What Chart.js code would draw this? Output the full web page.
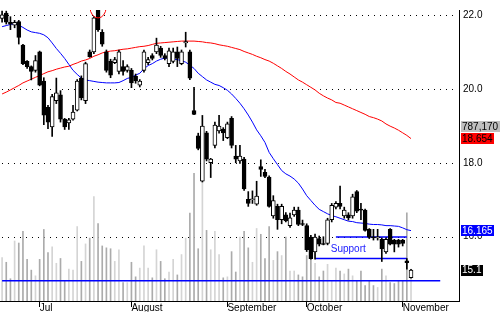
<!DOCTYPE html>
<html>
<head>
<meta charset="utf-8">
<script src="https://cdn.jsdelivr.net/npm/chart.js@4/dist/chart.umd.min.js"></script>
<style>
  html, body { margin: 0; padding: 0; background: #fff; }
  canvas { display: block; }
</style>
</head>
<body>
<canvas id="chart" width="500" height="312"></canvas>
<script>
// ---- Data ----
const SLOTS = 110; // daily slots on the x axis, last ~11 left empty

const monthIdx   = [9, 31, 54, 73, 96];
const monthNames = ['Jul', 'August', 'September', 'October', 'November'];

const opens = [
  21.9, 22.05, 21.8, 21.72, 21.82, 21.18, 20.74, 20.6, 20.5, 21.0,
  20.21, 19.5, 18.97, 19.68, 19.84, 19.18, 19.08, 19.18, 19.42, 20.29,
  19.68, 21.0, 21.0, 22.25, 21.53, 21.0, 20.74, 20.71, 20.47, 20.6,
  20.5, 20.5, 20.34, 20.1, 20.5, 20.71, 20.9, 21.0, 21.1, 20.9,
  20.68, 20.74, 21.0, 20.68, 21.24, 21.0, 19.41, 18.73, 17.5, 18.81,
  18.0, 18.47, 18.86, 18.91, 18.68, 19.2, 18.18, 18.05, 18.1, 17.01,
  17.0, 16.88, 17.9, 17.74, 17.61, 16.56, 16.82, 16.46, 16.59, 16.3,
  16.59, 16.72, 16.35, 16.3, 15.99, 15.59, 15.95, 15.8, 15.82, 16.46,
  16.8, 16.9, 16.56, 16.59, 16.56, 17.22, 16.75, 16.72, 16.2, 16.0,
  15.97, 15.93, 15.59, 16.2, 15.91, 15.91, 15.91, 15.35, 14.89
];
const highs = [
  22.1, 22.1, 21.95, 21.85, 21.85, 21.2, 20.76, 20.62, 20.9, 21.02,
  20.3, 19.55, 19.85, 20.29, 19.95, 19.2, 19.2, 19.55, 20.25, 20.35,
  20.72, 21.05, 21.95, 22.4, 21.6, 21.05, 20.8, 20.85, 21.05, 20.76,
  20.65, 20.55, 20.4, 20.25, 21.05, 20.85, 20.95, 21.37, 21.15, 20.95,
  21.1, 21.1, 21.13, 21.05, 21.53, 21.05, 20.04, 18.8, 19.28, 18.85,
  18.12, 19.1, 19.28, 18.95, 19.1, 19.25, 18.47, 18.47, 18.15, 17.22,
  17.24, 17.5, 18.08, 17.82, 17.65, 17.11, 16.88, 16.88, 16.65, 16.64,
  16.8, 16.8, 16.45, 16.35, 16.04, 16.07, 16.02, 16.0, 16.5, 16.9,
  16.95, 17.37, 16.8, 16.65, 17.15, 17.25, 16.9, 16.75, 16.22, 16.2,
  16.2, 15.97, 15.97, 16.22, 15.93, 15.93, 15.93, 15.41, 15.12
];
const lows = [
  21.8, 21.75, 21.6, 21.65, 21.21, 20.65, 20.55, 20.24, 20.45, 20.08,
  19.03, 18.92, 18.71, 19.6, 19.1, 18.9, 18.9, 19.15, 19.4, 19.7,
  19.6, 20.85, 20.95, 21.55, 21.15, 20.45, 20.3, 20.68, 20.4, 20.37,
  20.45, 20.03, 20.15, 20.05, 20.45, 20.65, 20.78, 20.95, 20.85, 20.78,
  20.6, 20.7, 20.6, 20.65, 21.13, 20.25, 19.3, 18.35, 17.48, 18.05,
  17.6, 18.4, 18.8, 18.6, 18.65, 18.4, 18.0, 17.98, 17.25, 16.82,
  16.9, 16.85, 17.63, 17.6, 16.8, 16.5, 16.2, 16.35, 16.4, 16.25,
  16.55, 16.3, 16.3, 15.6, 15.39, 15.39, 15.75, 15.78, 15.78, 16.4,
  16.75, 16.75, 16.5, 16.45, 16.5, 16.65, 16.46, 16.15, 15.95, 15.91,
  15.91, 15.33, 15.55, 15.78, 15.59, 15.72, 15.75, 15.12, 14.88
];
const closes = [
  22.0, 21.8, 21.75, 21.8, 21.39, 20.68, 20.6, 20.47, 20.76, 20.1,
  19.29, 19.1, 19.79, 19.89, 19.18, 18.97, 19.16, 19.37, 20.21, 19.76,
  20.68, 20.87, 21.92, 21.6, 21.21, 20.5, 20.37, 20.79, 21.0, 20.47,
  20.6, 20.16, 20.21, 20.21, 21.0, 20.79, 20.82, 21.18, 20.9, 20.82,
  21.03, 21.0, 20.82, 21.0, 21.28, 20.29, 19.31, 18.39, 18.99, 18.1,
  18.1, 19.02, 18.99, 18.81, 19.05, 18.47, 18.1, 18.18, 17.29, 16.9,
  17.02, 17.1, 17.82, 17.63, 16.82, 16.98, 16.46, 16.82, 16.43, 16.51,
  16.72, 16.33, 16.33, 15.65, 15.41, 15.99, 15.8, 15.79, 16.46, 16.85,
  16.9, 16.82, 16.72, 16.51, 17.08, 16.69, 16.72, 16.17, 15.99, 15.97,
  16.0, 15.67, 15.93, 15.8, 15.8, 15.8, 15.82, 15.3, 15.1
];
// volume in thousands of shares
const volumes = [
  389, 346, 199, 536, 518, 622, 372, 276, 225, 372,
  639, 432, 484, 337, 380, 181, 285, 276, 665, 354,
  510, 562, 933, 691, 492, 475, 467, 354, 458, 164,
  164, 346, 216, 294, 492, 294, 207, 458, 354, 199,
  259, 372, 233, 415, 562, 786, 1140, 467, 1305, 631,
  458, 622, 415, 207, 216, 441, 259, 570, 622, 475,
  346, 648, 596, 380, 665, 363, 441, 406, 570, 268,
  268, 233, 216, 406, 415, 337, 216, 268, 328, 181,
  294, 268, 242, 285, 225, 181, 268, 138, 181, 138,
  121, 285, 225, 164, 156, 181, 181, 787.17, 285
];
const ma20 = [
  21.68, 21.71, 21.74, 21.76, 21.72, 21.66, 21.59, 21.54, 21.52, 21.5,
  21.46, 21.38, 21.24, 21.09, 20.96, 20.82, 20.66, 20.5, 20.39, 20.29,
  20.24, 20.22, 20.2, 20.18, 20.17, 20.16, 20.16, 20.16, 20.17, 20.22,
  20.28, 20.31, 20.37, 20.42, 20.54, 20.63, 20.68, 20.75, 20.8, 20.83,
  20.82, 20.8, 20.79, 20.76, 20.72, 20.64, 20.55, 20.42, 20.33, 20.24,
  20.18, 20.12, 20.09, 20.03, 19.96, 19.86, 19.74, 19.61, 19.46, 19.29,
  19.1, 18.89, 18.73, 18.55, 18.28, 18.11, 17.95, 17.79, 17.7, 17.64,
  17.56, 17.45, 17.29, 17.11, 16.98, 16.85, 16.74, 16.68, 16.62, 16.57,
  16.54, 16.5, 16.46, 16.42, 16.41, 16.38, 16.37, 16.36, 16.34, 16.33,
  16.33, 16.32, 16.3, 16.3, 16.29, 16.28, 16.24, 16.19, 16.165
];
const ma50 = [
  19.86, 19.91, 19.97, 20.03, 20.09, 20.16, 20.21, 20.26, 20.31, 20.36,
  20.41, 20.46, 20.49, 20.53, 20.56, 20.59, 20.61, 20.66, 20.7, 20.75,
  20.78, 20.82, 20.88, 20.92, 20.97, 21.0, 21.02, 21.03, 21.05, 21.07,
  21.08, 21.1, 21.12, 21.14, 21.15, 21.17, 21.2, 21.23, 21.24, 21.25,
  21.26, 21.27, 21.28, 21.29, 21.29, 21.29, 21.29, 21.28, 21.27, 21.25,
  21.24, 21.22, 21.19, 21.17, 21.15, 21.12, 21.09, 21.06, 21.01, 20.97,
  20.93, 20.88, 20.84, 20.79, 20.75, 20.69, 20.62, 20.55, 20.47, 20.4,
  20.32, 20.24, 20.18, 20.11, 20.04, 19.97, 19.88, 19.81, 19.75, 19.7,
  19.63, 19.61, 19.56, 19.51, 19.46, 19.41, 19.36, 19.31, 19.25, 19.22,
  19.18, 19.13, 19.05, 18.99, 18.94, 18.88, 18.81, 18.74, 18.654
];

// drawn support lines: price level, first and last slot
const supportLevels = [15.99, 15.41, 14.81];
const supportFrom   = [80, 75, 0];
const supportTo     = [97, 97, 105];

const priceTicks = [16, 18, 20, 22];
const lastVolumeTag = '787,170';

// ---- helpers ----
const slotLabels = Array.from({ length: SLOTS }, (_, i) => String(i));

function segment(level, from, to) {
  const arr = new Array(SLOTS).fill(null);
  arr[from] = level;
  arr[to] = level;
  return arr;
}

const isUp = i => closes[i] >= opens[i];

const supportSets = supportLevels.map((lv, k) => ({
  type: 'line',
  data: segment(lv, supportFrom[k], supportTo[k]),
  borderColor: '#0000ff',
  borderWidth: 1.5,
  pointRadius: 0,
  spanGaps: true,
  yAxisID: 'y',
  order: 3
}));

// ---- extra drawing: dotted grid, tags on the price axis, circle, text ----
const tagsPlugin = {
  id: 'tags',
  beforeDatasetsDraw(chart) {
    const { ctx, chartArea, scales } = chart;
    ctx.save();
    ctx.fillStyle = '#000';
    priceTicks.forEach(v => {
      const y = Math.round(scales.y.getPixelForValue(v));
      for (let x = chartArea.left + 2; x < chartArea.right - 1; x += 6) {
        ctx.fillRect(x, y, 1, 1);
      }
    });
    ctx.restore();
  },
  afterDatasetsDraw(chart) {
    const { ctx, chartArea, scales } = chart;
    ctx.save();
    ctx.beginPath();
    ctx.rect(chartArea.left, chartArea.top, chartArea.right - chartArea.left, chartArea.bottom - chartArea.top);
    ctx.clip();
    // red circle around the spike
    ctx.strokeStyle = '#ff0000';
    ctx.lineWidth = 1;
    ctx.beginPath();
    ctx.ellipse(scales.x.getPixelForValue(23), scales.y.getPixelForValue(22.2), 8, 10.5, 0, 0, Math.PI * 2);
    ctx.stroke();
    // "Support" note
    ctx.fillStyle = '#1a1aff';
    ctx.font = '10px "Liberation Sans", Arial, sans-serif';
    ctx.textBaseline = 'middle';
    ctx.textAlign = 'left';
    ctx.fillText('Support', scales.x.getPixelForValue(79) - 1, scales.y.getPixelForValue(15.65));
    ctx.restore();
  },
  afterDraw(chart) {
    const { ctx, scales, chartArea } = chart;
    const x0 = chartArea.right + 2;
    ctx.save();
    ctx.font = '10px "Liberation Sans", Arial, sans-serif';
    ctx.textBaseline = 'middle';
    ctx.textAlign = 'left';
    function tag(text, yc, bg, fg) {
      const w = Math.ceil(ctx.measureText(text).width) + 2;
      ctx.fillStyle = bg;
      ctx.fillRect(x0, Math.round(yc - 5.5), w, 11);
      ctx.fillStyle = fg;
      ctx.fillText(text, x0 + 1, yc + 0.5);
    }
    const redY = scales.y.getPixelForValue(ma50[ma50.length - 1]);
    tag(lastVolumeTag, redY - 12, '#c0c0c0', '#000');
    tag(ma50[ma50.length - 1].toFixed(3), redY, '#ff0000', '#000');
    tag(ma20[ma20.length - 1].toFixed(3), scales.y.getPixelForValue(ma20[ma20.length - 1]), '#0000ff', '#fff');
    tag(closes[closes.length - 1].toFixed(1), scales.y.getPixelForValue(closes[closes.length - 1]), '#000', '#fff');
    ctx.restore();
  }
};

// ---- chart ----
const ctx = document.getElementById('chart').getContext('2d');
new Chart(ctx, {
  type: 'bar',
  data: {
    labels: slotLabels,
    datasets: [
      {
        label: 'body',
        data: opens.map((o, i) => [o, closes[i]]),
        backgroundColor: opens.map((_, i) => isUp(i) ? '#ffffff' : '#000000'),
        borderColor: '#000',
        borderWidth: 1,
        borderSkipped: false,
        barThickness: 4,
        minBarLength: 1,
        grouped: false,
        yAxisID: 'y',
        order: 0
      },
      {
        label: 'wick',
        data: lows.map((l, i) => [l, highs[i]]),
        backgroundColor: '#000',
        barThickness: 1,
        grouped: false,
        yAxisID: 'y',
        order: 1
      },
      {
        type: 'line',
        label: 'MA20',
        data: ma20,
        borderColor: '#0000ff',
        borderWidth: 1,
        pointRadius: 0,
        tension: 0,
        yAxisID: 'y',
        order: 2
      },
      {
        type: 'line',
        label: 'MA50',
        data: ma50,
        borderColor: '#ff0000',
        borderWidth: 1,
        pointRadius: 0,
        tension: 0,
        yAxisID: 'y',
        order: 2
      },
      ...supportSets,
      {
        label: 'volume',
        data: volumes,
        backgroundColor: volumes.map((_, i) => isUp(i) ? '#d4d4d4' : '#ababab'),
        barThickness: 1,
        grouped: false,
        yAxisID: 'yv',
        order: 5
      }
    ]
  },
  options: {
    responsive: false,
    animation: false,
    devicePixelRatio: 1,
    layout: { padding: 0 },
    plugins: {
      legend: { display: false },
      tooltip: { enabled: false }
    },
    scales: {
      x: {
        type: 'category',
        offset: true,
        grid: { offset: false, drawOnChartArea: false, drawTicks: true, tickLength: 6, color: '#000' },
        border: { display: true, color: '#000', width: 1 },
        afterBuildTicks: axis => { axis.ticks = monthIdx.map(v => ({ value: v })); },
        afterFit: scale => { scale.height = 11; },
        ticks: {
          autoSkip: false,
          maxRotation: 0,
          minRotation: 0,
          align: 'start',
          padding: -5,
          color: '#000',
          font: { family: '"Liberation Sans", Arial, sans-serif', size: 10 },
          callback: v => monthNames[monthIdx.indexOf(v)]
        }
      },
      y: {
        position: 'right',
        min: 14.262,
        max: 22.131,
        afterBuildTicks: axis => { axis.ticks = priceTicks.map(v => ({ value: v })); },
        afterFit: scale => { scale.width = 41; },
        grid: { display: false, drawTicks: false },
        border: { display: true, color: '#000', width: 1 },
        ticks: {
          padding: 4,
          color: '#000',
          font: { family: '"Liberation Sans", Arial, sans-serif', size: 10 },
          callback: v => Number(v).toFixed(1)
        }
      },
      yv: {
        display: false,
        min: 0,
        max: 2600
      }
    }
  },
  plugins: [tagsPlugin]
});
</script>
</body>
</html>
